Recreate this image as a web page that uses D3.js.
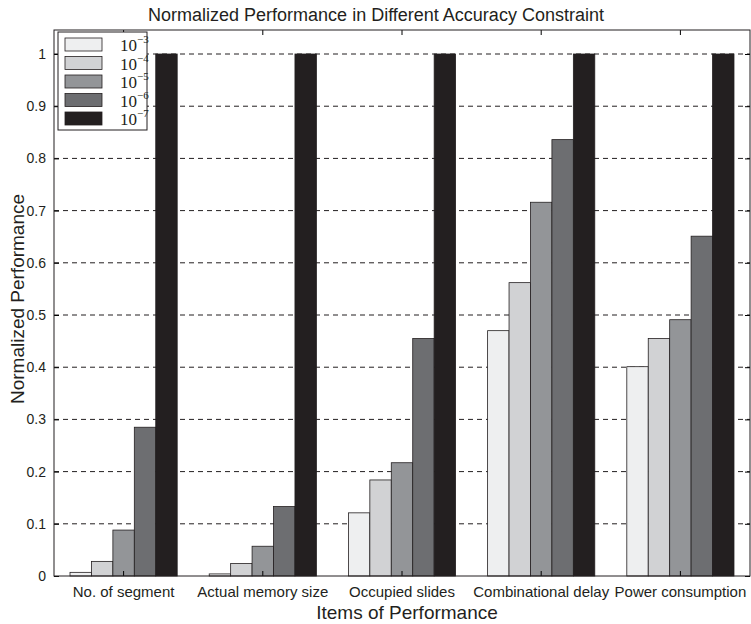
<!DOCTYPE html>
<html>
<head>
<meta charset="utf-8">
<script src="https://cdn.jsdelivr.net/npm/d3@7"></script>
<style>
  body { margin: 0; background: #fff; }
  text { font-family: "Liberation Sans", Arial, sans-serif; fill: #231f20; }
</style>
</head>
<body>
<div id="chart"></div>
<script>
// categories and series
const items = ["No. of segment", "Actual memory size", "Occupied slides", "Combinational delay", "Power consumption"]
const accuracy = ["-3", "-4", "-5", "-6", "-7"]
const acc1e3 = [0.007, 0.004, 0.121, 0.470, 0.401]
const acc1e4 = [0.028, 0.024, 0.184, 0.562, 0.455]
const acc1e5 = [0.088, 0.057, 0.217, 0.716, 0.491]
const acc1e6 = [0.285, 0.133, 0.455, 0.836, 0.651]
const acc1e7 = [1, 1, 1, 1, 1]
const yTicks = [0, 0.1, 0.2, 0.3, 0.4, 0.5, 0.6, 0.7, 0.8, 0.9, 1]
const colors = ["#eeeff0", "#d1d2d4", "#939598", "#6d6e71", "#231f20"]

const series = [acc1e3, acc1e4, acc1e5, acc1e6, acc1e7]

var margin = { top: 30, right: 1, bottom: 48, left: 54 },
    width = 751 - margin.left - margin.right,
    height = 624 - margin.top - margin.bottom;

var svg = d3.select("#chart")
    .append("svg")
    .attr("width", 751)
    .attr("height", 624)

var g = svg.append("g")
    .attr("transform", "translate(" + margin.left + "," + margin.top + ")");

var x = d3.scaleBand()
    .domain(items)
    .range([0, width])
    .paddingInner(0)
    .paddingOuter(0)

var x1 = d3.scaleBand()
    .domain(d3.range(series.length))
    .range([x.bandwidth() * 0.115, x.bandwidth() * 0.885])

var y = d3.scaleLinear()
    .domain([0, 1.046])
    .range([height, 0]);

// dashed horizontal grid
g.append("g")
    .selectAll("line")
    .data(yTicks.filter(d => d > 0))
    .join("line")
    .attr("x1", 0)
    .attr("x2", width)
    .attr("y1", d => y(d))
    .attr("y2", d => y(d))
    .attr("stroke", "#231f20")
    .attr("stroke-width", 1)
    .attr("stroke-dasharray", "5,4")

// bars
const groups = g.append("g")
    .selectAll("g")
    .data(items)
    .join("g")
    .attr("transform", d => "translate(" + x(d) + ",0)")

groups.selectAll("rect")
    .data((d, i) => series.map((s, k) => ({ k: k, v: s[i] })))
    .join("rect")
    .attr("x", d => x1(d.k))
    .attr("width", x1.bandwidth())
    .attr("y", d => y(d.v))
    .attr("height", d => y(0) - y(d.v))
    .attr("fill", d => colors[d.k])
    .attr("stroke", "#231f20")
    .attr("stroke-width", 0.8)

// axes
const yAxis = g.append("g")
    .call(d3.axisLeft(y).tickValues(yTicks).tickSize(-5).tickPadding(8).tickFormat(d3.format("~g")))
yAxis.select(".domain").remove()
yAxis.selectAll("text").attr("font-size", 14).attr("font-family", "Liberation Sans, Arial, sans-serif")

const yAxisR = g.append("g")
    .attr("transform", "translate(" + width + ",0)")
    .call(d3.axisRight(y).tickValues(yTicks).tickSize(-5).tickFormat(""))
yAxisR.select(".domain").remove()

const xTop = g.append("g")
    .call(d3.axisTop(x).tickSize(-5).tickFormat(""))
xTop.select(".domain").remove()

const xAxis = g.append("g")
    .attr("transform", "translate(0," + height + ")")
    .call(d3.axisBottom(x).tickSize(-5).tickPadding(10))
xAxis.select(".domain").remove()
xAxis.selectAll("text").attr("font-size", 15).attr("font-family", "Liberation Sans, Arial, sans-serif")

// box
g.append("rect")
    .attr("width", width)
    .attr("height", height)
    .attr("fill", "none")
    .attr("stroke", "#231f20")
    .attr("stroke-width", 1)

// titles
svg.append("text")
    .attr("x", margin.left + width / 2 - 26)
    .attr("y", 21)
    .attr("text-anchor", "middle")
    .attr("font-size", 18)
    .text("Normalized Performance in Different Accuracy Constraint")

svg.append("text")
    .attr("x", margin.left + width / 2 + 5)
    .attr("y", 619)
    .attr("text-anchor", "middle")
    .attr("font-size", 19)
    .text("Items of Performance")

svg.append("text")
    .attr("transform", "translate(24," + (margin.top + height / 2 - 4) + ") rotate(-90)")
    .attr("text-anchor", "middle")
    .attr("font-size", 19)
    .text("Normalized Performance")

// legend
const legend = svg.append("g").attr("transform", "translate(58,32)")
legend.append("rect")
    .attr("width", 89)
    .attr("height", 98)
    .attr("fill", "#fff")
    .attr("stroke", "#231f20")
    .attr("stroke-width", 1)

const li = legend.selectAll("g.item")
    .data(accuracy)
    .join("g")
    .attr("class", "item")
    .attr("transform", (d, i) => "translate(7," + (6 + i * 18.5) + ")")

li.append("rect")
    .attr("width", 37)
    .attr("height", 13)
    .attr("fill", (d, i) => colors[i])
    .attr("stroke", "#231f20")
    .attr("stroke-width", 0.8)

const lt = li.append("text")
    .attr("x", 55)
    .attr("y", 13)
    .style("font-family", "Liberation Serif, serif")
    .attr("font-size", 17)
lt.append("tspan").text("10")
lt.append("tspan")
    .attr("dy", -8)
    .attr("font-size", 11)
    .text(d => "\u2212" + d.slice(1))
</script>
</body>
</html>
